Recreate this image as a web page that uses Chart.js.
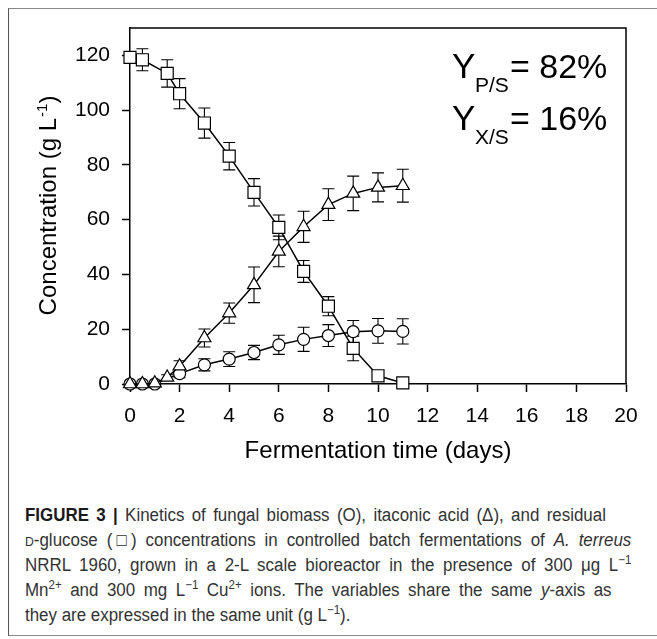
<!DOCTYPE html>
<html lang="en">
<head>
  <meta charset="UTF-8" />
  <title>Figure 3 - Fermentation kinetics</title>
  <style>
    * {
      box-sizing: border-box;
      margin: 0;
      padding: 0;
    }

    body {
      width: 657px;
      height: 639px;
      position: relative;
      overflow: hidden;
      background: #fff;
      font-family: "Liberation Sans", Arial, sans-serif;
    }

    .frame {
      position: absolute;
      left: 8px;
      top: 8px;
      width: 700px;
      height: 628px;
      border: 1px solid #888;
      border-left-color: #555;
    }

    #chart {
      position: absolute;
      left: 0;
      top: 0;
    }

    /* caption font in the figure is a bit condensed, so squeeze it horizontally */
    .caption {
      position: absolute;
      left: 25px;
      top: 503px;
      width: 645px;
      font-size: 18px;
      line-height: 25px;
      color: #333;
      white-space: nowrap;
      transform: scaleX(0.94);
      transform-origin: left top;
    }

    .caption .ln {
      display: block;
      text-align: justify;
      text-align-last: justify;
    }

    .caption .first {
      width: 618px;
    }

    .caption .fourth {
      width: 624px;
    }

    .caption .last {
      text-align-last: left;
    }

    .caption b {
      color: #1a1a1a;
    }

    .caption sup {
      font-size: 0.68em;
      line-height: 0;
      vertical-align: 0.6em;
    }

    .sc {
      font-variant: small-caps;
    }
  </style>
</head>
<body>
  <div class="frame"></div>
  <canvas id="chart" width="657" height="480"></canvas>
  <div class="caption">
    <span class="ln first"><b>FIGURE 3 |</b> Kinetics of fungal biomass (O), itaconic acid (&Delta;), and residual</span>
    <span class="ln"><span class="sc">d</span>-glucose (&#9633;) concentrations in controlled batch fermentations of <i>A. terreus</i></span>
    <span class="ln">NRRL 1960, grown in a 2-L scale bioreactor in the presence of 300 &mu;g L<sup>&minus;1</sup></span>
    <span class="ln fourth">Mn<sup>2+</sup> and 300 mg L<sup>&minus;1</sup> Cu<sup>2+</sup> ions. The variables share the same <i>y</i>-axis as</span>
    <span class="ln last">they are expressed in the same unit (g L<sup>&minus;1</sup>).</span>
  </div>

  <script src="https://cdn.jsdelivr.net/npm/chart.js"></script>
  <script>
    // residual D-glucose (squares)
    const glucoseDays = [0, 0.5, 1.5, 2, 3, 4, 5, 6, 7, 8, 9, 10, 11];
    const glucose = [119.3, 118.4, 113.4, 106, 95.3, 83.2, 70, 57.2, 41.1, 28.4, 13, 3, 0.4];
    const glucoseErr = [1.5, 4, 5, 5.5, 5.5, 5, 5, 4.5, 4, 3.5, 4.5, 0, 0];

    // itaconic acid (triangles)
    const acidDays = [0, 0.5, 1, 1.5, 2, 3, 4, 5, 6, 7, 8, 9, 10, 11];
    const acid = [0, 0, 0.3, 2.4, 6.5, 16.8, 25.9, 36.2, 48.4, 57.4, 65.5, 69.6, 71.8, 72.4];
    const acidErr = [0, 0, 0, 1, 2, 3.3, 3.7, 6.5, 5.6, 5.7, 5.8, 6.3, 5.3, 6];

    // fungal biomass (circles)
    const biomassDays = [0, 0.5, 1, 2, 3, 4, 5, 6, 7, 8, 9, 10, 11];
    const biomass = [0, 0, 0, 3.8, 7, 9.1, 11.5, 14.3, 16.3, 17.7, 19.1, 19.4, 19.2];
    const biomassErr = [0, 0, 0, 1.5, 2.2, 2.7, 2.6, 3.5, 4.4, 4, 4.1, 4.5, 4.6];

    const xTicks = [0, 2, 4, 6, 8, 10, 12, 14, 16, 18, 20];
    const yTicks = [0, 20, 40, 60, 80, 100, 120];

    const yields = [['P/S', '82%'], ['X/S', '16%']];

    Chart.defaults.font.family = '"Liberation Sans", Arial, sans-serif';
    Chart.defaults.color = '#000';

    function points(days, vals) {
      return days.map((d, i) => ({ x: d, y: vals[i] }));
    }

    function series(label, days, vals, errs, style, radius) {
      return {
        label: label,
        data: points(days, vals),
        errors: errs,
        borderColor: '#000',
        borderWidth: 1.5,
        pointStyle: style,
        pointRadius: radius,
        pointBorderColor: '#000',
        pointBackgroundColor: '#fff',
        pointBorderWidth: 1.2,
        tension: 0,
        clip: false
      };
    }

    // error bars drawn under the markers
    const errorBars = {
      id: 'errorBars',
      beforeDatasetsDraw(chart) {
        const ctx = chart.ctx;
        const y = chart.scales.y;
        ctx.save();
        ctx.strokeStyle = '#000';
        ctx.lineWidth = 1.1;
        chart.data.datasets.forEach((ds, i) => {
          const meta = chart.getDatasetMeta(i);
          meta.data.forEach((pt, j) => {
            const e = ds.errors[j];
            if (!e) return;
            const v = ds.data[j].y;
            const top = y.getPixelForValue(v + e);
            const bot = y.getPixelForValue(v - e);
            ctx.beginPath();
            ctx.moveTo(pt.x, top);
            ctx.lineTo(pt.x, bot);
            ctx.moveTo(pt.x - 6, top);
            ctx.lineTo(pt.x + 6, top);
            ctx.moveTo(pt.x - 6, bot);
            ctx.lineTo(pt.x + 6, bot);
            ctx.stroke();
          });
        });
        ctx.restore();
      }
    };

    // top/right frame, y title with superscript, yield annotation
    const extras = {
      id: 'extras',
      afterDraw(chart) {
        const ctx = chart.ctx;
        const a = chart.chartArea;
        const fam = Chart.defaults.font.family;
        ctx.save();
        ctx.strokeStyle = '#000';
        ctx.lineWidth = 1.5;
        ctx.beginPath();
        ctx.moveTo(a.left, a.top);
        ctx.lineTo(a.right, a.top);
        ctx.lineTo(a.right, a.bottom);
        ctx.stroke();

        ctx.fillStyle = '#000';
        ctx.textBaseline = 'alphabetic';

        // y axis title
        const big = '24px ' + fam, small = '15px ' + fam;
        const p1 = 'Concentration (g L', p2 = '-1', p3 = ')';
        ctx.font = big;
        const w1 = ctx.measureText(p1).width, w3 = ctx.measureText(p3).width;
        ctx.font = small;
        const w2 = ctx.measureText(p2).width;
        const total = w1 + w2 + w3;
        ctx.translate(56, (a.top + a.bottom) / 2);
        ctx.rotate(-Math.PI / 2);
        let x = -total / 2;
        ctx.font = big;
        ctx.fillText(p1, x, 0);
        x += w1;
        ctx.font = small;
        ctx.fillText(p2, x + 1, -9);
        x += w2 + 1;
        ctx.font = big;
        ctx.fillText(p3, x, 0);
        ctx.setTransform(1, 0, 0, 1, 0, 0);

        // yields
        yields.forEach((row, i) => {
          const base = 78 + i * 52;
          ctx.font = '35px ' + fam;
          ctx.fillText('Y', 452, base);
          ctx.font = '21px ' + fam;
          ctx.fillText(row[0], 475, base + 14);
          ctx.font = '34px ' + fam;
          ctx.fillText('= ' + row[1], 510, base);
        });
        ctx.restore();
      }
    };

    new Chart(document.getElementById('chart'), {
      type: 'line',
      data: {
        datasets: [
          series('Residual D-glucose', glucoseDays, glucose, glucoseErr, 'rect', 8.5),
          series('Itaconic acid', acidDays, acid, acidErr, 'triangle', 7.5),
          series('Fungal biomass', biomassDays, biomass, biomassErr, 'circle', 6)
        ]
      },
      options: {
        responsive: false,
        animation: false,
        layout: { padding: { left: 0, right: 31, top: 28, bottom: 0 } },
        plugins: {
          legend: { display: false },
          tooltip: { enabled: false }
        },
        scales: {
          x: {
            type: 'linear',
            min: 0,
            max: 20,
            afterBuildTicks: s => { s.ticks = xTicks.map(v => ({ value: v })); },
            afterFit: s => { s.height = 96; },
            ticks: { font: { size: 21 }, padding: 12, maxRotation: 0 },
            grid: { drawOnChartArea: false, tickLength: 8, tickColor: '#000', tickWidth: 1.5 },
            border: { color: '#000', width: 1.5 },
            title: {
              display: true,
              text: 'Fermentation time (days)',
              font: { size: 24 },
              padding: { top: 0, bottom: 14 }
            }
          },
          y: {
            min: 0,
            max: 130,
            afterBuildTicks: s => { s.ticks = yTicks.map(v => ({ value: v })); },
            afterFit: s => { s.width = 130; },
            ticks: { font: { size: 21 }, padding: 12 },
            grid: { drawOnChartArea: false, tickLength: 8, tickColor: '#000', tickWidth: 1.5 },
            border: { color: '#000', width: 1.5 }
          }
        }
      },
      plugins: [errorBars, extras]
    });
  </script>
</body>
</html>
